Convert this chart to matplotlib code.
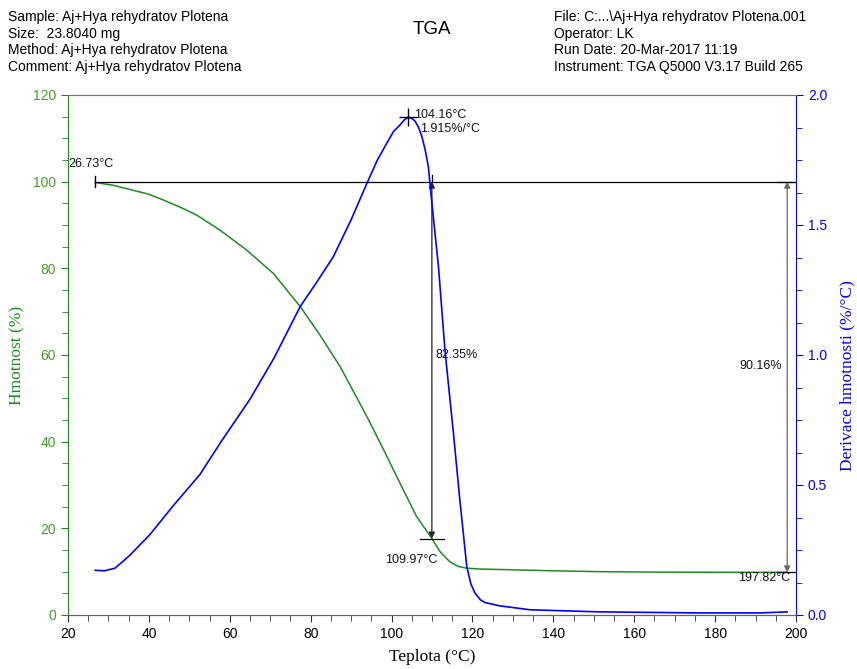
"""TGA curve of Aj+Hya rehydratov Plotena with its derivative."""

import matplotlib

matplotlib.use("Agg")
import matplotlib.pyplot as plt
from matplotlib.ticker import MultipleLocator

# weight curve (%)
temp_w = [26.73, 31, 35.3, 40, 43.5, 48, 51.8, 57.6, 64.2, 70.8, 77.4, 82.3, 87.3,
          93.9, 98, 102.1, 106.2, 109.97, 112, 114.4, 116.5, 118.6, 122, 126.8,
          140, 151.5, 165, 176.3, 197.82]
weight = [99.8, 99.2, 98.2, 97.1, 95.8, 94.0, 92.3, 88.8, 84.2, 78.8, 71.2, 64.6,
          57.3, 45.8, 38.2, 30.4, 22.7, 17.65, 14.6, 12.3, 11.2, 10.8, 10.6, 10.5,
          10.2, 10.0, 9.9, 9.87, 9.84]

# derivative curve (%/°C)
temp_d = [26.73, 29, 31.6, 33.5, 35.3, 40.3, 46, 52.6, 58, 65, 71, 77.4, 81.5, 85.6,
          90, 93.9, 96.5, 98.8, 100.5, 102.1, 103.2, 104.16, 105, 105.8, 106.7,
          107.5, 108.3, 109.1, 109.9, 110.8, 111.6, 113.2, 115.3, 116.9, 118.6,
          119.6, 120.6, 122, 123.1, 126.8, 134.3, 151.5, 176.3, 191, 197.82]
deriv = [0.172, 0.170, 0.180, 0.205, 0.230, 0.31, 0.42, 0.54, 0.67, 0.83, 0.99,
         1.186, 1.28, 1.378, 1.52, 1.66, 1.75, 1.814, 1.86, 1.885, 1.905, 1.915,
         1.91, 1.90, 1.875, 1.84, 1.79, 1.724, 1.596, 1.46, 1.34, 1.019, 0.699,
         0.44, 0.186, 0.12, 0.085, 0.058, 0.048, 0.035, 0.02, 0.012, 0.008, 0.008,
         0.012]

# analysis results
t_start, w_start = 26.73, 100.0
t_step1, loss1 = 109.97, 82.35
t_step2, loss2 = 197.82, 90.16
t_peak, d_peak = 104.16, 1.915

header_left = ["Sample: Aj+Hya rehydratov Plotena", "Size:  23.8040 mg",
               "Method: Aj+Hya rehydratov Plotena", "Comment: Aj+Hya rehydratov Plotena"]
header_right = ["File: C:...\\Aj+Hya rehydratov Plotena.001", "Operator: LK",
                "Run Date: 20-Mar-2017 11:19", "Instrument: TGA Q5000 V3.17 Build 265"]

GREEN = "#1e8a1e"
BLUE = "#0000ff"
TICK_GREEN = "#4a9a2a"
SANS = "Liberation Sans"
SERIF = "Liberation Serif"

fig = plt.figure(figsize=(8.57, 6.69), dpi=100)
ax = fig.add_axes([68 / 857, 54 / 669, 728 / 857, 520 / 669])
ax2 = ax.twinx()

ax.plot(temp_w, weight, color=GREEN, lw=1.1, zorder=3)
ax2.plot(temp_d, deriv, color=BLUE, lw=1.2, zorder=3)

ax.set_xlim(20, 200)
ax.set_ylim(0, 120)
ax2.set_ylim(0, 2.0)

ax.xaxis.set_major_locator(MultipleLocator(20))
ax.xaxis.set_minor_locator(MultipleLocator(5))
ax.yaxis.set_major_locator(MultipleLocator(20))
ax.yaxis.set_minor_locator(MultipleLocator(5))
ax2.yaxis.set_major_locator(MultipleLocator(0.5))
ax2.yaxis.set_minor_locator(MultipleLocator(0.125))
ax2.yaxis.set_major_formatter(lambda v, p: f"{v:.1f}")

for a in (ax, ax2):
    for s in a.spines.values():
        s.set_color("#666666")
    a.spines["top"].set_color("#777777")
ax.spines["left"].set_color(GREEN)
ax2.spines["left"].set_visible(False)
ax2.spines["right"].set_color(BLUE)
ax.spines["right"].set_visible(False)
ax.spines["bottom"].set_color("#555555")

ax.tick_params(axis="x", which="both", colors="#333333", labelcolor="black", labelsize=10)
ax.tick_params(axis="x", which="major", length=5)
ax.tick_params(axis="x", which="minor", length=4)
ax.tick_params(axis="y", which="both", colors=GREEN, labelcolor=TICK_GREEN, labelsize=10)
ax.tick_params(axis="y", which="major", length=5)
ax.tick_params(axis="y", which="minor", length=4)
ax2.tick_params(axis="y", which="both", colors=BLUE, labelcolor=BLUE, labelsize=10)
ax2.tick_params(axis="y", which="major", length=5)
ax2.tick_params(axis="y", which="minor", length=4)
for lab in ax.get_xticklabels() + ax.get_yticklabels() + ax2.get_yticklabels():
    lab.set_fontfamily(SANS)

ax.set_xlabel("Teplota (°C)", family=SERIF, fontsize=12.5, labelpad=6)
ax.set_ylabel("Hmotnost (%)", family=SERIF, fontsize=12.5, color=GREEN)
ax.yaxis.set_label_coords(-0.059, 0.5)
ax2.set_ylabel("Derivace hmotnosti (%/°C)", family=SERIF, fontsize=12.5, color=BLUE)
ax2.yaxis.set_label_coords(1.059, 0.46)

# step-change annotations
ax.plot([t_start, 200], [w_start, w_start], color="black", lw=0.9, zorder=4)
ax.plot([t_start, t_start], [w_start - 1.2, w_start + 1.2], color="black", lw=1, zorder=4)
arrow = dict(arrowstyle="<|-|>", color="#222222", lw=0.9, mutation_scale=9,
             shrinkA=0, shrinkB=0)
ax.annotate("", xy=(t_step1, w_start - loss1), xytext=(t_step1, w_start),
            arrowprops=arrow, zorder=4)
ax.plot([t_step1 - 3, t_step1 + 3], [w_start - loss1] * 2, color="black", lw=0.9, zorder=4)
ax.plot([t_step1, t_step1], [w_start, w_start + 1.5], color="black", lw=0.9, zorder=4)
ax.annotate("", xy=(t_step2, w_start - loss2), xytext=(t_step2, w_start),
            arrowprops=dict(arrow, color="#666666"), zorder=4)
ax.plot([t_step2 - 2.5, 200], [w_start - loss2] * 2, color="black", lw=0.9, zorder=4)
ax.plot([t_step2 - 2.5, 200], [w_start] * 2, color="black", lw=0.9, zorder=4)

tf = dict(family=SANS, fontsize=9, color="#111111")
ax.text(t_start - 6.6, w_start + 3.5, f"{t_start:.2f}°C", **tf)
ax.text(t_step1 + 0.8, 60, f"{loss1:.2f}%", ha="left", va="center", **tf)
ax.text(t_step1 - 5, w_start - loss1 - 5, f"{t_step1:.2f}°C", ha="center", va="center", **tf)
ax.text(t_step2 - 1.2, 57.5, f"{loss2:.2f}%", ha="right", va="center", **tf)
ax.text(t_step2 + 0.8, w_start - loss2 - 1.4, f"{t_step2:.2f}°C", ha="right", va="center", **tf)

ax2.plot([t_peak], [d_peak], marker="+", ms=13, mew=1, color="black", zorder=5)
ax2.text(t_peak + 1.3, d_peak + 0.01, f"{t_peak:.2f}°C", ha="left", va="center", **tf)
ax2.text(t_peak + 3.0, d_peak - 0.045, f"{d_peak:.3f}%/°C", ha="left", va="center", **tf)

# header block
hf = dict(family=SANS, fontsize=10, color="black", va="baseline")
for i, line in enumerate(header_left):
    fig.text(8 / 857, 1 - (21 + i * 16.7) / 669, line, **hf)
for i, line in enumerate(header_right):
    fig.text(554 / 857, 1 - (21 + i * 16.7) / 669, line, **hf)
fig.text(432 / 857, 1 - 34 / 669, "TGA", family=SANS, fontsize=13.5, ha="center", va="baseline")

fig.savefig("out.png", dpi=100)
